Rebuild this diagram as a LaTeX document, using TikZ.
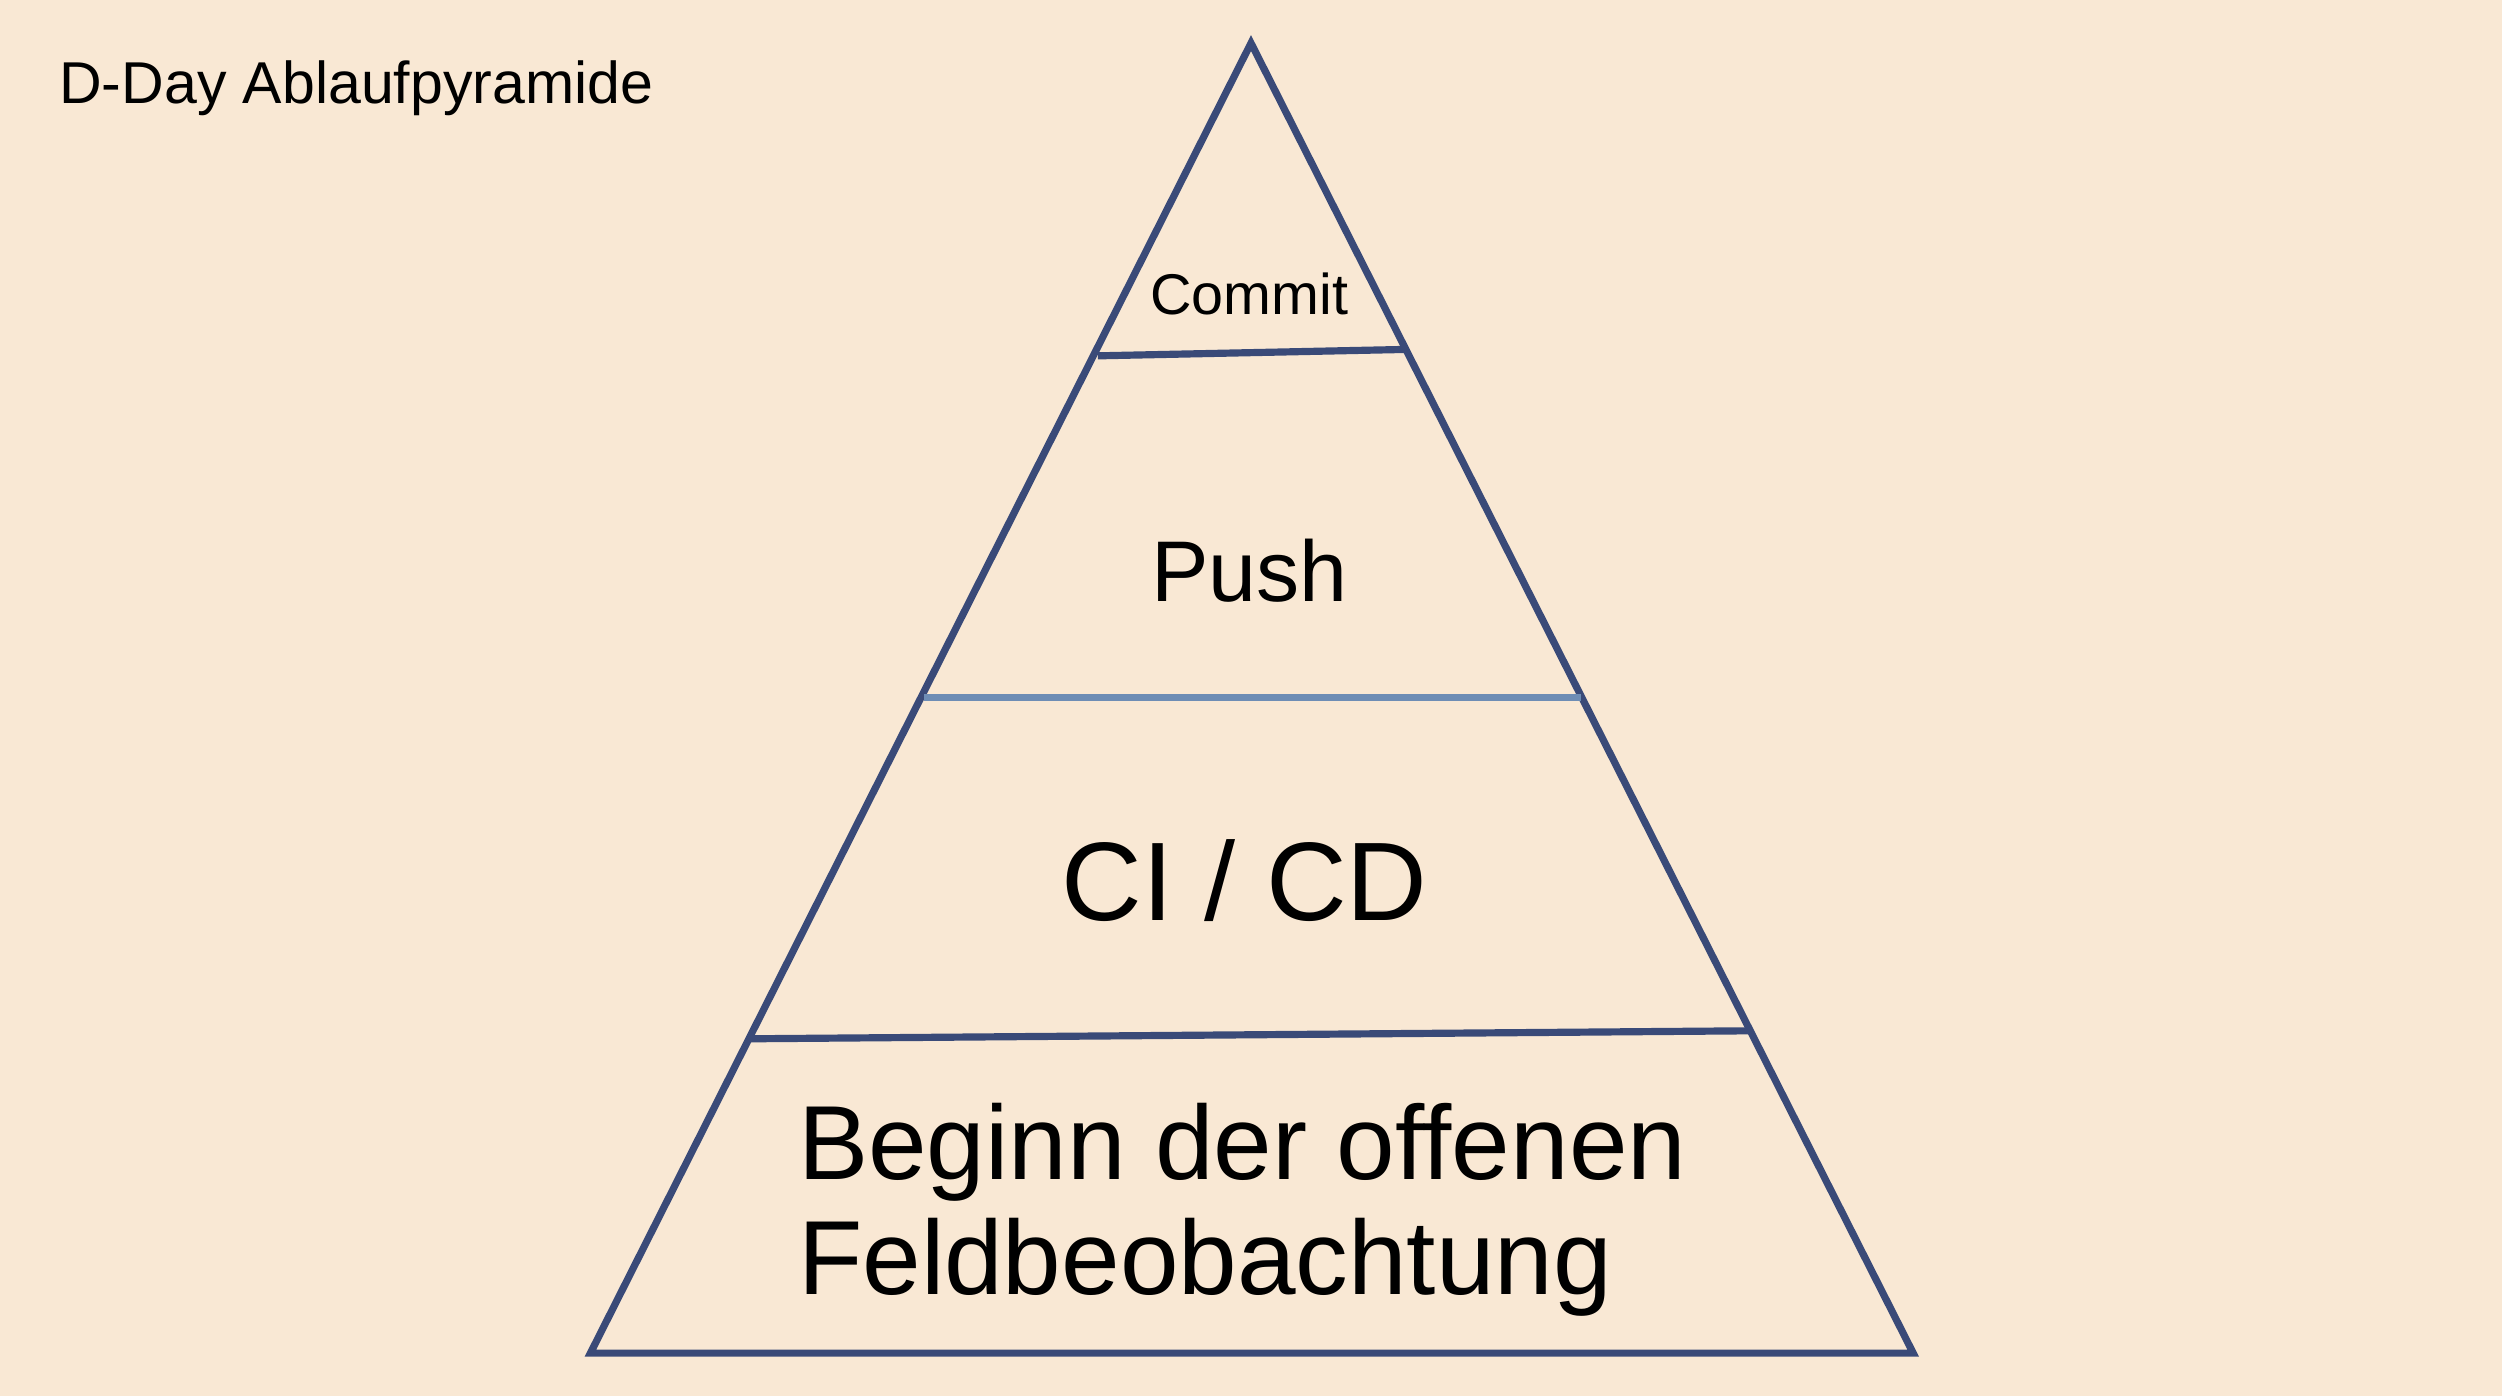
\documentclass[tikz,border=0pt]{standalone}
\usepackage{fontspec}
\setmainfont{Liberation Sans}
\definecolor{bg}{HTML}{F9E8D4}
\definecolor{dk}{HTML}{3A4A78}
\definecolor{lt}{HTML}{6E8DB5}
\begin{document}
\begin{tikzpicture}[x=1pt,y=-1pt,
  edge/.style={draw=dk,line width=4.5pt,line join=miter},
  lbl/.style={inner sep=0pt,text=black}]
\fill[bg] (0,0) rectangle (1568,875);
\useasboundingbox (0,0) rectangle (1568,875);
\coordinate (A) at (784,27);
\coordinate (L) at (370,848);
\coordinate (R) at (1199,848);
\draw[edge] (A) -- (L) -- (R) -- cycle;
\coordinate (c1) at (688,223); \coordinate (c2) at (880,219);
\coordinate (p1) at (579,437); \coordinate (p2) at (991,437);
\coordinate (d1) at (470,651); \coordinate (d2) at (1096,646);
\draw[edge] (c1) -- (c2);
\draw[draw=lt,line width=4.5pt] (p1) -- (p2);
\draw[edge] (d1) -- (d2);
\node[lbl,anchor=base] (commit) at (783,197) {\fontsize{36}{40}\selectfont Commit};
\node[lbl,anchor=base] (push) at (783,377) {\fontsize{54}{60}\selectfont Push};
\node[lbl,anchor=base] (cicd) at (780,577) {\fontsize{70}{78}\selectfont CI / CD};
\node[lbl,anchor=base west] (b1) at (500,739) {\fontsize{66}{72}\selectfont Beginn der offenen};
\node[lbl,anchor=base west] (b2) at (500,811) {\fontsize{66}{72}\selectfont Feldbeobachtung};
\node[lbl,anchor=base west] (title) at (37,65) {\fontsize{37}{42}\selectfont D-Day Ablaufpyramide};
\end{tikzpicture}
\end{document}
